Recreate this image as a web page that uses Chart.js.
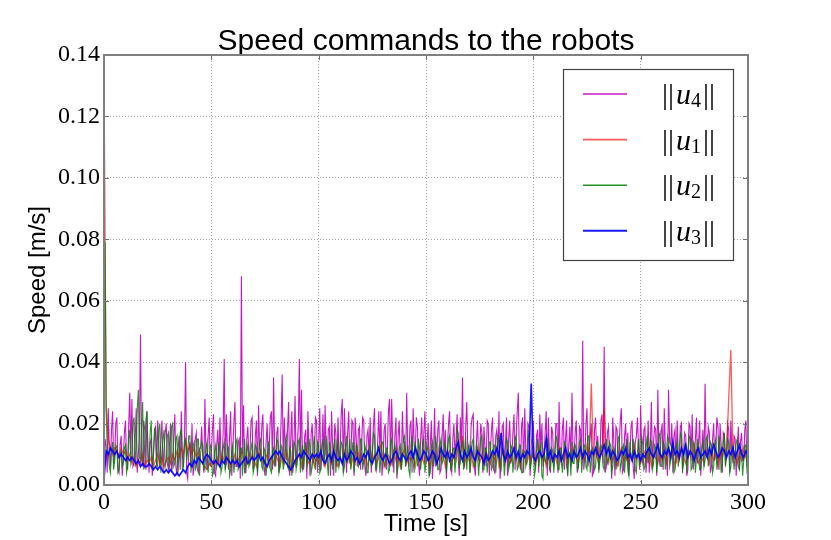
<!DOCTYPE html>
<html>
<head>
<meta charset="utf-8">
<script src="https://cdn.jsdelivr.net/npm/chart.js@4.4.1/dist/chart.umd.min.js"></script>
<style>
  html, body { margin: 0; padding: 0; background: #fff; }
  #c { display: block; }
</style>
</head>
<body>
<canvas id="c" width="831" height="540"></canvas>
<script>
// ---------------- DATA ----------------
const TITLE = 'Speed commands to the robots';
const X_LABEL = 'Time [s]';
const Y_LABEL = 'Speed [m/s]';
const X_TICKS = [0, 50, 100, 150, 200, 250, 300];
const Y_TICKS = [0.00, 0.02, 0.04, 0.06, 0.08, 0.10, 0.12, 0.14];
const SERIES_NAMES = ['4', '1', '2', '3'];   // subscripts of ||u_i||

// time samples (s): fine = every 0.5 s, coarse = every 1 s
const timesFine = Array.from({ length: 601 }, (_, i) => i / 2);
const timesCoarse = Array.from({ length: 301 }, (_, i) => i);

// ||u4|| (magenta), every 0.5 s
const u4 = [
  0.008,0.015, 0.012,0.004, 0.025,0.011, 0.006,0.018, 0.024,0.007, 0.010,0.020, 0.022,0.005, 0.004,0.013, 0.016,0.003, 0.009,0.017,
  0.021,0.008, 0.005,0.019, 0.030,0.010, 0.028,0.006, 0.007,0.014, 0.025,0.004, 0.010,0.016, 0.049,0.009, 0.006,0.021, 0.018,0.005,
  0.024,0.011, 0.004,0.014, 0.015,0.003, 0.009,0.018, 0.019,0.006, 0.021,0.012, 0.006,0.015, 0.021,0.004, 0.012,0.017, 0.020,0.007,
  0.005,0.013, 0.020,0.004, 0.008,0.016, 0.023,0.006, 0.003,0.012, 0.016,0.005, 0.024,0.010, 0.006,0.015, 0.040,0.004, 0.002,0.011,
  0.014,0.006, 0.020,0.003, 0.007,0.015, 0.017,0.005, 0.004,0.012, 0.012,0.019, 0.009,0.004, 0.028,0.010, 0.005,0.016, 0.022,0.006,
  0.010,0.018, 0.023,0.004, 0.003,0.013, 0.018,0.007, 0.022,0.009, 0.008,0.017, 0.041,0.005, 0.023,0.012, 0.005,0.016, 0.024,0.003,
  0.012,0.020, 0.027,0.006, 0.006,0.014, 0.015,0.002, 0.068,0.010, 0.026,0.004, 0.004,0.015, 0.019,0.008, 0.011,0.021, 0.022,0.005,
  0.007,0.016, 0.021,0.003, 0.026,0.012, 0.009,0.019, 0.023,0.006, 0.003,0.014, 0.020,0.008, 0.013,0.022, 0.024,0.005, 0.035,0.010,
  0.006,0.017, 0.019,0.004, 0.010,0.021, 0.036,0.007, 0.022,0.012, 0.008,0.018, 0.027,0.003, 0.015,0.024, 0.004,0.013, 0.029,0.006,
  0.012,0.019, 0.041,0.008, 0.031,0.005, 0.006,0.016, 0.018,0.002, 0.024,0.011, 0.003,0.017, 0.020,0.007, 0.009,0.022, 0.021,0.004,
  0.014,0.025, 0.005,0.012, 0.023,0.006, 0.026,0.010, 0.008,0.018, 0.019,0.003, 0.024,0.013, 0.003,0.020, 0.017,0.006, 0.022,0.009,
  0.011,0.023, 0.028,0.004, 0.025,0.012, 0.004,0.017, 0.024,0.007, 0.009,0.021, 0.020,0.003, 0.022,0.015, 0.006,0.018, 0.019,0.005,
  0.013,0.022, 0.021,0.006, 0.003,0.016, 0.018,0.009, 0.022,0.004, 0.010,0.019, 0.025,0.007, 0.005,0.014, 0.024,0.011, 0.024,0.003,
  0.008,0.018, 0.020,0.005, 0.012,0.024, 0.028,0.006, 0.028,0.013, 0.004,0.016, 0.022,0.002, 0.016,0.021, 0.009,0.005, 0.024,0.014,
  0.014,0.006, 0.030,0.011, 0.006,0.019, 0.021,0.004, 0.025,0.013, 0.011,0.022, 0.019,0.007, 0.003,0.015, 0.022,0.008, 0.017,0.024,
  0.007,0.014, 0.020,0.003, 0.013,0.021, 0.002,0.010, 0.025,0.006, 0.010,0.018, 0.021,0.004, 0.005,0.016, 0.023,0.009, 0.018,0.002,
  0.012,0.020, 0.024,0.006, 0.004,0.015, 0.020,0.009, 0.015,0.023, 0.009,0.003, 0.022,0.012, 0.035,0.007, 0.006,0.019, 0.027,0.010,
  0.013,0.004, 0.019,0.022, 0.023,0.006, 0.003,0.014, 0.021,0.008, 0.010,0.020, 0.017,0.004, 0.019,0.012, 0.006,0.021, 0.020,0.003,
  0.011,0.018, 0.022,0.005, 0.004,0.016, 0.018,0.009, 0.024,0.002, 0.008,0.019, 0.020,0.006, 0.013,0.022, 0.003,0.015, 0.021,0.007,
  0.009,0.017, 0.023,0.005, 0.016,0.024, 0.030,0.008, 0.005,0.019, 0.022,0.004, 0.025,0.011, 0.008,0.020, 0.019,0.003, 0.012,0.018,
  0.021,0.007, 0.006,0.016, 0.018,0.004, 0.023,0.012, 0.020,0.006, 0.009,0.017, 0.024,0.003, 0.022,0.010, 0.004,0.019, 0.017,0.006,
  0.011,0.020, 0.020,0.004, 0.027,0.009, 0.007,0.018, 0.022,0.005, 0.015,0.021, 0.003,0.013, 0.019,0.006, 0.030,0.010, 0.010,0.017,
  0.021,0.004, 0.006,0.019, 0.018,0.008, 0.047,0.005, 0.009,0.020, 0.025,0.006, 0.012,0.016, 0.020,0.003, 0.004,0.018, 0.022,0.009,
  0.016,0.005, 0.008,0.021, 0.023,0.007, 0.045,0.004, 0.006,0.017, 0.019,0.010, 0.011,0.002, 0.022,0.014, 0.003,0.019, 0.018,0.006,
  0.013,0.021, 0.025,0.004, 0.005,0.016, 0.020,0.008, 0.017,0.003, 0.009,0.019, 0.021,0.006, 0.002,0.014, 0.016,0.022, 0.012,0.005,
  0.026,0.009, 0.007,0.018, 0.019,0.004, 0.010,0.021, 0.004,0.013, 0.027,0.006, 0.014,0.019, 0.018,0.003, 0.031,0.010, 0.006,0.017,
  0.020,0.005, 0.025,0.012, 0.009,0.003, 0.031,0.014, 0.013,0.020, 0.004,0.016, 0.018,0.007, 0.021,0.011, 0.008,0.019, 0.020,0.004,
  0.011,0.017, 0.016,0.003, 0.005,0.020, 0.019,0.009, 0.023,0.005, 0.009,0.015, 0.022,0.007, 0.014,0.021, 0.003,0.012, 0.018,0.006,
  0.033,0.011, 0.010,0.019, 0.017,0.004, 0.006,0.015, 0.020,0.008, 0.012,0.022, 0.019,0.005, 0.020,0.013, 0.004,0.017, 0.016,0.007,
  0.009,0.020, 0.018,0.004, 0.021,0.012, 0.007,0.016, 0.015,0.003, 0.011,0.019, 0.005,0.014, 0.017,0.008, 0.008,0.018, 0.021,0.006,
  0.010
];

// ||u1|| (red), every 1 s
const u1 = [
  0.135, 0.026, 0.015, 0.012, 0.010, 0.012, 0.011, 0.009, 0.012, 0.010,
  0.011, 0.008, 0.010, 0.007, 0.009, 0.006, 0.008, 0.007, 0.010, 0.006,
  0.008, 0.007, 0.009, 0.006, 0.008, 0.010, 0.007, 0.009, 0.006, 0.008,
  0.009, 0.007, 0.010, 0.008, 0.011, 0.009, 0.012, 0.010, 0.014, 0.011,
  0.013, 0.010, 0.012, 0.009, 0.011, 0.008, 0.007, 0.006, 0.005, 0.007,
  0.006, 0.008, 0.007, 0.009, 0.006, 0.010, 0.008, 0.007, 0.009, 0.006,
  0.008, 0.010, 0.007, 0.009, 0.011, 0.008, 0.006, 0.009, 0.007, 0.010,
  0.008, 0.006, 0.009, 0.011, 0.007, 0.008, 0.010, 0.006, 0.009, 0.007,
  0.010, 0.008, 0.006, 0.009, 0.007, 0.011, 0.008, 0.005, 0.009, 0.007,
  0.008, 0.010, 0.006, 0.009, 0.012, 0.007, 0.008, 0.010, 0.006, 0.009,
  0.007, 0.011, 0.008, 0.006, 0.010, 0.009, 0.007, 0.012, 0.008, 0.006,
  0.009, 0.007, 0.011, 0.008, 0.010, 0.006, 0.009, 0.007, 0.012, 0.008,
  0.010, 0.007, 0.009, 0.006, 0.011, 0.008, 0.010, 0.007, 0.009, 0.013,
  0.008, 0.006, 0.010, 0.009, 0.007, 0.011, 0.008, 0.010, 0.006, 0.009,
  0.012, 0.007, 0.009, 0.008, 0.010, 0.006, 0.011, 0.008, 0.009, 0.007,
  0.010, 0.008, 0.006, 0.011, 0.009, 0.007, 0.012, 0.008, 0.010, 0.006,
  0.009, 0.011, 0.007, 0.010, 0.008, 0.013, 0.009, 0.016, 0.007, 0.010,
  0.008, 0.011, 0.006, 0.009, 0.012, 0.007, 0.010, 0.008, 0.011, 0.009,
  0.007, 0.010, 0.008, 0.012, 0.006, 0.009, 0.011, 0.008, 0.010, 0.007,
  0.009, 0.012, 0.008, 0.010, 0.006, 0.011, 0.009, 0.007, 0.010, 0.008,
  0.011, 0.007, 0.009, 0.012, 0.008, 0.010, 0.006, 0.009, 0.011, 0.008,
  0.010, 0.007, 0.012, 0.009, 0.008, 0.011, 0.007, 0.010, 0.008, 0.012,
  0.009, 0.007, 0.011, 0.010, 0.008, 0.013, 0.010, 0.033, 0.009, 0.011,
  0.008, 0.012, 0.010, 0.025, 0.009, 0.007, 0.011, 0.008, 0.010, 0.006,
  0.009, 0.012, 0.008, 0.010, 0.007, 0.011, 0.009, 0.013, 0.008, 0.010,
  0.007, 0.009, 0.011, 0.008, 0.012, 0.006, 0.010, 0.009, 0.007, 0.011,
  0.008, 0.010, 0.007, 0.012, 0.009, 0.011, 0.006, 0.010, 0.008, 0.012,
  0.009, 0.007, 0.011, 0.010, 0.008, 0.013, 0.009, 0.007, 0.010, 0.008,
  0.011, 0.009, 0.007, 0.012, 0.008, 0.010, 0.006, 0.011, 0.009, 0.012,
  0.010, 0.028, 0.044, 0.009, 0.011, 0.007, 0.010, 0.008, 0.012, 0.009,
  0.010
];

// ||u2|| (green), every 0.5 s
const u2 = [
  0.070,0.079, 0.024,0.012, 0.010,0.006, 0.004,0.011, 0.014,0.005, 0.008,0.013, 0.012,0.004, 0.005,0.010, 0.011,0.006, 0.007,0.012,
  0.013,0.004, 0.006,0.015, 0.018,0.007, 0.009,0.020, 0.022,0.006, 0.012,0.025, 0.031,0.009, 0.008,0.019, 0.027,0.005, 0.014,0.021,
  0.024,0.008, 0.007,0.017, 0.021,0.005, 0.010,0.016, 0.019,0.007, 0.006,0.018, 0.020,0.004, 0.011,0.015, 0.018,0.006, 0.008,0.016,
  0.017,0.005, 0.010,0.019, 0.020,0.006, 0.007,0.015, 0.016,0.004, 0.012,0.017, 0.018,0.005, 0.006,0.014, 0.015,0.008, 0.011,0.016,
  0.016,0.004, 0.008,0.013, 0.014,0.005, 0.006,0.015, 0.015,0.003, 0.010,0.014, 0.013,0.006, 0.005,0.012, 0.014,0.004, 0.009,0.013,
  0.012,0.003, 0.004,0.011, 0.013,0.006, 0.008,0.014, 0.011,0.004, 0.006,0.012, 0.014,0.005, 0.007,0.013, 0.012,0.003, 0.005,0.011,
  0.013,0.004, 0.008,0.014, 0.015,0.005, 0.006,0.012, 0.012,0.003, 0.009,0.015, 0.004,0.011, 0.013,0.006, 0.007,0.012, 0.014,0.004,
  0.006,0.013, 0.012,0.004, 0.009,0.014, 0.015,0.006, 0.005,0.012, 0.011,0.003, 0.008,0.014, 0.013,0.005, 0.004,0.011, 0.012,0.006,
  0.009,0.015, 0.014,0.004, 0.006,0.013, 0.012,0.005, 0.008,0.014, 0.016,0.006, 0.005,0.012, 0.011,0.003, 0.009,0.014, 0.013,0.005,
  0.007,0.014, 0.015,0.004, 0.010,0.013, 0.005,0.011, 0.014,0.006, 0.008,0.015, 0.012,0.004, 0.006,0.013, 0.016,0.005, 0.009,0.014,
  0.013,0.004, 0.005,0.012, 0.015,0.007, 0.010,0.016, 0.007,0.003, 0.014,0.011, 0.009,0.005, 0.012,0.015, 0.004,0.010, 0.015,0.006,
  0.008,0.014, 0.013,0.004, 0.006,0.012, 0.016,0.007, 0.010,0.015, 0.005,0.011, 0.014,0.004, 0.009,0.013, 0.012,0.006, 0.007,0.015,
  0.015,0.005, 0.008,0.013, 0.011,0.004, 0.004,0.012, 0.013,0.006, 0.010,0.017, 0.016,0.005, 0.006,0.013, 0.012,0.004, 0.009,0.014,
  0.014,0.006, 0.007,0.012, 0.012,0.004, 0.005,0.014, 0.015,0.007, 0.009,0.013, 0.011,0.004, 0.006,0.012, 0.013,0.005, 0.008,0.015,
  0.016,0.006, 0.010,0.013, 0.005,0.003, 0.013,0.016, 0.008,0.004, 0.014,0.011, 0.006,0.015, 0.012,0.005, 0.009,0.014, 0.015,0.004,
  0.007,0.013, 0.011,0.003, 0.004,0.012, 0.014,0.006, 0.009,0.016, 0.012,0.005, 0.005,0.013, 0.015,0.007, 0.008,0.014, 0.013,0.004,
  0.010,0.015, 0.016,0.005, 0.006,0.012, 0.012,0.004, 0.009,0.018, 0.017,0.006, 0.007,0.013, 0.014,0.005, 0.010,0.016, 0.005,0.011,
  0.013,0.004, 0.008,0.014, 0.015,0.006, 0.006,0.013, 0.011,0.003, 0.009,0.015, 0.016,0.005, 0.005,0.012, 0.012,0.004, 0.008,0.014,
  0.014,0.005, 0.006,0.013, 0.013,0.004, 0.009,0.016, 0.015,0.006, 0.005,0.012, 0.011,0.003, 0.008,0.015, 0.014,0.005, 0.007,0.013,
  0.012,0.004, 0.009,0.015, 0.016,0.005, 0.006,0.013, 0.013,0.004, 0.004,0.011, 0.011,0.006, 0.008,0.014, 0.018,0.005, 0.007,0.012,
  0.013,0.003, 0.005,0.012, 0.015,0.006, 0.009,0.014, 0.003,0.002, 0.012,0.008, 0.007,0.015, 0.014,0.005, 0.006,0.012, 0.011,0.004,
  0.009,0.016, 0.015,0.005, 0.005,0.012, 0.012,0.004, 0.008,0.014, 0.013,0.006, 0.004,0.011, 0.010,0.003, 0.014,0.007, 0.007,0.013,
  0.012,0.005, 0.006,0.014, 0.015,0.004, 0.009,0.013, 0.013,0.006, 0.005,0.016, 0.016,0.004, 0.008,0.012, 0.011,0.005, 0.006,0.014,
  0.014,0.004, 0.009,0.013, 0.012,0.006, 0.005,0.011, 0.015,0.007, 0.008,0.014, 0.013,0.004, 0.006,0.012, 0.011,0.005, 0.009,0.015,
  0.016,0.005, 0.007,0.012, 0.013,0.004, 0.010,0.015, 0.005,0.003, 0.014,0.009, 0.008,0.015, 0.012,0.005, 0.004,0.011, 0.015,0.006,
  0.009,0.016, 0.013,0.005, 0.006,0.012, 0.016,0.007, 0.010,0.015, 0.014,0.005, 0.007,0.013, 0.012,0.004, 0.009,0.016, 0.017,0.006,
  0.006,0.014, 0.013,0.005, 0.010,0.016, 0.015,0.006, 0.008,0.013, 0.012,0.004, 0.005,0.012, 0.014,0.006, 0.009,0.017, 0.016,0.005,
  0.007,0.013, 0.012,0.004, 0.010,0.016, 0.015,0.005, 0.006,0.014, 0.013,0.004, 0.009,0.015, 0.011,0.005, 0.005,0.012, 0.014,0.006,
  0.008,0.015, 0.016,0.006, 0.010,0.014, 0.013,0.004, 0.006,0.013, 0.015,0.005, 0.009,0.016, 0.012,0.004, 0.007,0.014, 0.017,0.006,
  0.010,0.015, 0.014,0.004, 0.006,0.013, 0.012,0.005, 0.009,0.014, 0.015,0.006, 0.005,0.012, 0.011,0.003, 0.008,0.013, 0.013,0.005,
  0.007
];

// ||u3|| (blue), every 1 s
const u3 = [
  0.002, 0.011, 0.010, 0.012, 0.011, 0.010, 0.011, 0.009, 0.010, 0.009,
  0.008, 0.009, 0.008, 0.009, 0.008, 0.007, 0.008, 0.006, 0.007, 0.006,
  0.006, 0.007, 0.006, 0.005, 0.006, 0.005, 0.006, 0.005, 0.004, 0.005,
  0.004, 0.005, 0.004, 0.003, 0.004, 0.003, 0.004, 0.005, 0.004, 0.006,
  0.007, 0.006, 0.008, 0.007, 0.009, 0.008, 0.007, 0.009, 0.010, 0.009,
  0.008, 0.007, 0.008, 0.007, 0.006, 0.008, 0.007, 0.009, 0.008, 0.007,
  0.008, 0.007, 0.008, 0.006, 0.007, 0.008, 0.009, 0.007, 0.008, 0.009,
  0.008, 0.009, 0.010, 0.008, 0.009, 0.007, 0.006, 0.008, 0.009, 0.010,
  0.011, 0.010, 0.011, 0.009, 0.008, 0.007, 0.006, 0.005, 0.006, 0.008,
  0.009, 0.010, 0.009, 0.011, 0.010, 0.009, 0.008, 0.010, 0.009, 0.010,
  0.009, 0.011, 0.008, 0.007, 0.009, 0.010, 0.008, 0.011, 0.009, 0.008,
  0.009, 0.007, 0.010, 0.008, 0.009, 0.011, 0.010, 0.008, 0.009, 0.007,
  0.008, 0.010, 0.009, 0.011, 0.008, 0.007, 0.009, 0.010, 0.012, 0.009,
  0.008, 0.010, 0.009, 0.007, 0.008, 0.010, 0.011, 0.009, 0.008, 0.010,
  0.009, 0.008, 0.010, 0.011, 0.009, 0.012, 0.010, 0.008, 0.009, 0.011,
  0.010, 0.008, 0.009, 0.011, 0.010, 0.007, 0.009, 0.012, 0.010, 0.009,
  0.011, 0.008, 0.010, 0.009, 0.012, 0.014, 0.010, 0.008, 0.011, 0.009,
  0.010, 0.012, 0.009, 0.008, 0.011, 0.010, 0.009, 0.007, 0.010, 0.008,
  0.009, 0.011, 0.010, 0.012, 0.009, 0.017, 0.010, 0.008, 0.011, 0.009,
  0.010, 0.012, 0.009, 0.011, 0.008, 0.010, 0.009, 0.011, 0.010, 0.033,
  0.009, 0.008, 0.010, 0.011, 0.009, 0.010, 0.015, 0.009, 0.011, 0.008,
  0.010, 0.009, 0.011, 0.008, 0.010, 0.012, 0.009, 0.010, 0.008, 0.011,
  0.009, 0.010, 0.012, 0.009, 0.011, 0.010, 0.008, 0.011, 0.010, 0.012,
  0.010, 0.009, 0.011, 0.013, 0.010, 0.012, 0.009, 0.011, 0.010, 0.008,
  0.009, 0.011, 0.010, 0.012, 0.009, 0.010, 0.008, 0.011, 0.009, 0.010,
  0.008, 0.010, 0.009, 0.011, 0.012, 0.010, 0.009, 0.011, 0.013, 0.010,
  0.009, 0.011, 0.010, 0.012, 0.009, 0.014, 0.010, 0.011, 0.009, 0.012,
  0.010, 0.013, 0.009, 0.011, 0.010, 0.008, 0.011, 0.012, 0.009, 0.010,
  0.011, 0.009, 0.012, 0.010, 0.013, 0.011, 0.009, 0.010, 0.012, 0.011,
  0.009, 0.011, 0.010, 0.012, 0.009, 0.011, 0.013, 0.010, 0.009, 0.011,
  0.010
];

// ---------------- STYLE ----------------
const SERIF = '"Liberation Serif", "DejaVu Serif", serif';
const SANS = '"Liberation Sans", Arial, sans-serif';
const COLORS = ['rgba(192,0,192,0.9)', 'rgba(255,0,0,0.65)', 'rgba(0,128,0,0.85)', 'rgba(0,0,255,0.9)'];
const WIDTHS = [1.1, 1.3, 1.1, 1.7];
const SERIES = [u4, u1, u2, u3];
const SERIES_TIMES = [timesFine, timesCoarse, timesFine, timesCoarse];
const DRAW_ORDER = [4, 3, 2, 1];   // u4 at the bottom, u3 on top

const toPoints = (vals, ts) => vals.map((v, i) => ({ x: ts[i], y: v }));

const framePlugin = {
  id: 'frameAndLegend',
  afterLayout(chart) {
    // center the title over the plotting area, as in the reference
    const a = chart.chartArea;
    if (chart.titleBlock) { chart.titleBlock.left = a.left; chart.titleBlock.right = a.right; }
  },
  afterDatasetsDraw(chart) {
    const { ctx, chartArea: a, scales: { x, y } } = chart;
    ctx.save();
    // inward tick marks
    ctx.strokeStyle = '#707070';
    ctx.lineWidth = 1;
    ctx.beginPath();
    x.ticks.forEach(t => {
      const px = Math.round(x.getPixelForValue(t.value)) + 0.5;
      ctx.moveTo(px, a.bottom); ctx.lineTo(px, a.bottom - 5);
      ctx.moveTo(px, a.top); ctx.lineTo(px, a.top + 5);
    });
    y.ticks.forEach(t => {
      const py = Math.round(y.getPixelForValue(t.value)) + 0.5;
      ctx.moveTo(a.left, py); ctx.lineTo(a.left + 5, py);
      ctx.moveTo(a.right, py); ctx.lineTo(a.right - 5, py);
    });
    ctx.stroke();
    // frame
    ctx.strokeStyle = '#808080';
    ctx.lineWidth = 2;
    ctx.strokeRect(a.left, a.top, a.right - a.left, a.bottom - a.top);

    // legend
    const bx = a.right - 185, by = a.top + 14, bw = 170, bh = 191;
    ctx.fillStyle = '#fff';
    ctx.fillRect(bx, by, bw, bh);
    ctx.strokeStyle = '#444';
    ctx.lineWidth = 1.2;
    ctx.strokeRect(bx + 0.5, by + 0.5, bw, bh);
    chart.data.datasets.forEach((ds, i) => {
      const ly = by + 25 + i * 45.6;
      ctx.strokeStyle = ds.borderColor;
      ctx.lineWidth = ds.borderWidth + 0.3;
      ctx.beginPath();
      ctx.moveTo(bx + 20, ly); ctx.lineTo(bx + 64, ly);
      ctx.stroke();
      // ||u_i||
      ctx.fillStyle = '#000';
      ctx.textBaseline = 'alphabetic';
      ctx.textAlign = 'left';
      let tx = bx + 99;
      const base = ly + 10;
      ctx.font = '30px ' + SERIF;
      ctx.fillText('||', tx, base);
      tx += ctx.measureText('||').width + 2;
      ctx.font = 'italic 30px ' + SERIF;
      ctx.fillText('u', tx, base);
      tx += ctx.measureText('u').width;
      ctx.font = '20px ' + SERIF;
      ctx.fillText(SERIES_NAMES[i], tx, base + 3);
      tx += ctx.measureText(SERIES_NAMES[i]).width + 2;
      ctx.font = '30px ' + SERIF;
      ctx.fillText('||', tx, base);
    });
    ctx.restore();
  }
};

new Chart(document.getElementById('c'), {
  type: 'line',
  data: {
    datasets: SERIES.map((s, i) => ({
      label: '||u' + SERIES_NAMES[i] + '||',
      data: toPoints(s, SERIES_TIMES[i]),
      borderColor: COLORS[i],
      borderWidth: WIDTHS[i],
      order: DRAW_ORDER[i],
      pointRadius: 0,
      tension: 0,
      fill: false
    }))
  },
  options: {
    responsive: false,
    animation: false,
    devicePixelRatio: 1,
    layout: { padding: { left: 0, right: 83, top: 0, bottom: 0 } },
    plugins: {
      legend: { display: false },
      tooltip: { enabled: false },
      title: {
        display: true,
        text: TITLE,
        color: '#000',
        font: { family: SANS, size: 30, weight: 'normal', lineHeight: 1 },
        padding: { top: 27, bottom: -2 }
      }
    },
    scales: {
      x: {
        type: 'linear',
        min: 0, max: 300,
        afterFit: (s) => { s.height = 55; },
        afterBuildTicks: (s) => { s.ticks = X_TICKS.map(v => ({ value: v })); },
        ticks: { color: '#000', font: { family: SERIF, size: 24 }, padding: 3, maxRotation: 0, autoSkip: false },
        grid: { color: '#a0a0a0', lineWidth: 1, drawTicks: false },
        border: { display: false, dash: [1, 2] },
        title: { display: true, text: X_LABEL, color: '#000', font: { family: SANS, size: 24 }, padding: { top: 0, bottom: 1 } }
      },
      y: {
        min: 0, max: 0.14,
        afterFit: (s) => { s.width = 104; },
        afterBuildTicks: (s) => { s.ticks = Y_TICKS.map(v => ({ value: v })); },
        ticks: { color: '#000', font: { family: SERIF, size: 24 }, padding: 4, callback: (v) => Number(v).toFixed(2) },
        grid: { color: '#a0a0a0', lineWidth: 1, drawTicks: false },
        border: { display: false, dash: [1, 2] },
        title: { display: true, text: Y_LABEL, color: '#000', font: { family: SANS, size: 24 }, padding: { top: 24, bottom: 0 } }
      }
    }
  },
  plugins: [framePlugin]
});
</script>
</body>
</html>
